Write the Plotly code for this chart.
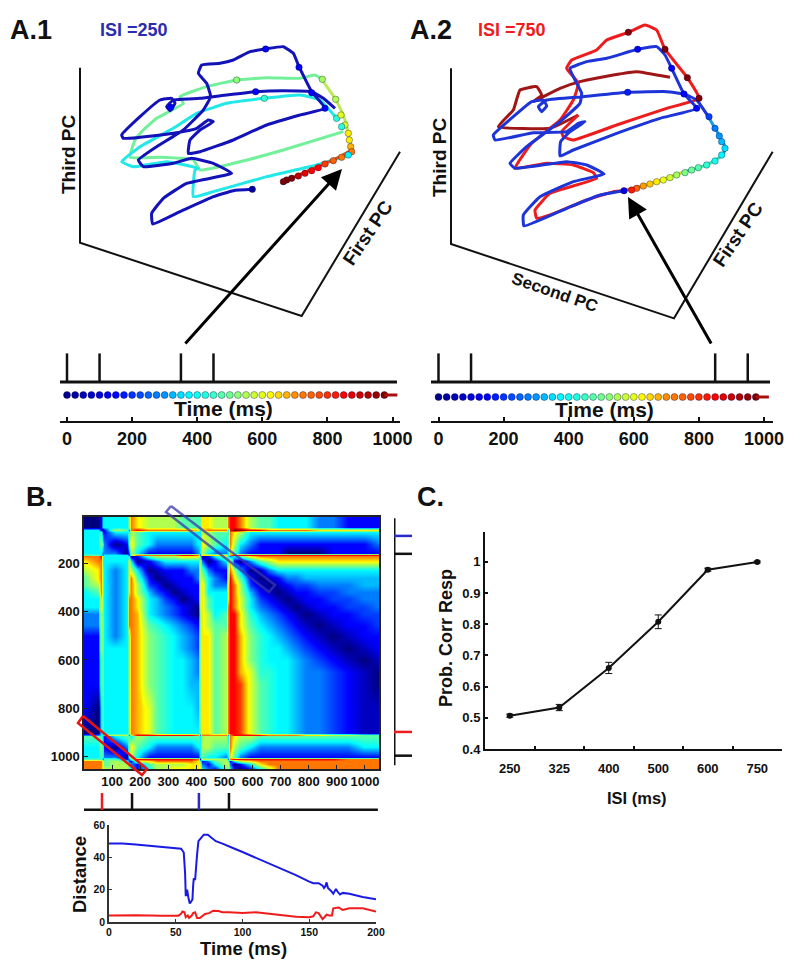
import plotly.graph_objects as go

# ---------- Panel A.1 trajectories (projected PC coordinates) ----------
a1_blue_x = [757,700,640,540,458,455,490,560,695,640,575,520,430,415,470,550,610,632,620,595,605,660,700,750,795,850,880,897,935,975,900,800,700,600,565,570,600,640,625,590,520,420,370,365,420,480,515,525,510,500,520,600,680,767,850,935,970,1005]
a1_blue_y = [568,572,590,635,672,640,595,550,520,490,475,490,500,480,440,390,330,290,250,220,195,190,180,155,147,140,160,200,275,325,345,375,420,455,460,420,390,365,360,385,400,412,415,405,350,300,295,310,332,320,300,295,285,275,272,275,295,325]
a1_cyan_x = [1045,950,800,640,580,585,595,500,400,365,420,520,590,680,793,900,960,1010]
a1_cyan_y = [465,495,530,575,590,510,505,485,500,485,440,385,340,310,295,285,300,355]
a1_green_x = [1030,850,700,600,580,480,390,405,430,470,550,540,620,710,800,900,945,965]
a1_green_y = [395,450,490,510,480,472,472,420,390,355,310,290,260,240,233,235,225,238]
a1_lime_x = [965,1005,1030,1045,1055]
a1_lime_y = [238,295,345,400,450]
a1_red_x = [1055,1000,930,850]
a1_red_y = [450,480,510,545]
a1_dot_x = [757,512,767,797,897,935,975,710,967,793,1007,1010,1023,1035,1025,1045,1048,1052,1055,1045,1025,1000,975,955,935,915,895,875,860,850]
a1_dot_y = [568,322,275,147,202,278,325,240,238,295,298,355,345,375,380,400,420,440,455,465,472,482,492,503,512,520,528,535,540,545]
a1_dot_c = [0.2,1,1,1,1,1,1,4.6,4.8,3.6,5,3.5,5.5,5.5,3.5,6,6,6.5,7,3,7,7.2,7.5,8,8,8.2,8.5,9,9,9]

# ---------- Panel A.2 trajectories ----------
a2_blue_x = [672,600,500,372,370,420,520,612,560,500,345,330,380,480,540,545,525,510,560,620,713,770,795,815,852,890,780,650,520,480,482,510,555,535,500,400,285,280,340,395,430,440,425,415,440,550,683,800,852,890,925]
a2_blue_y = [572,585,625,678,645,590,545,522,495,485,505,490,440,365,310,280,240,205,185,175,148,140,165,205,282,325,355,400,450,468,425,395,365,370,395,398,420,405,350,305,300,318,335,320,300,290,277,275,282,300,350]
a2_azure_x = [925,945,960,975,970]
a2_azure_y = [350,385,410,440,465]
a2_teal_x = [970,920,860]
a2_teal_y = [465,495,513]
a2_yellow_x = [860,760,720]
a2_yellow_y = [513,548,560]
a2_orange_x = [720,672]
a2_orange_y = [560,572]
a2_red_x = [672,640,560,450,410,405,450,590,580,520,440,345,395,480,520,535,500,515,590,620,685,735,770,795,862,897,800,650,520,490,485,535]
a2_red_y = [572,575,600,645,655,630,580,535,518,495,490,505,430,360,300,250,205,180,150,120,97,75,90,148,233,295,325,375,420,410,395,345]
a2_dkred_x = [535,450,295,340,360,410,425,400,480,540,640,710,810]
a2_dkred_y = [345,385,380,330,270,260,285,305,265,245,225,215,232]
a2_dot_x = [672,683,713,815,852,890,685,795,862,897,927,945,958,965,975,965,945,920,895,875,855,830,810,790,770,750,730,710,695]
a2_dot_y = [572,277,148,205,282,325,97,148,233,295,350,385,408,425,445,465,483,495,503,510,518,525,533,540,545,552,558,565,570]
a2_dot_c = [0.8,1.2,1,1,1,1,9,9,9,9,1.5,2,2.2,2.5,2.8,3,3.3,3.6,4,4.2,4.4,4.8,5.3,5.7,6,6.3,6.7,7.2,7.8]

# PC axes of the two 3-D boxes
a1_box_x = [240,240,905,1200]
a1_box_y = [203,728,948,455]
a2_box_x = [153,153,822,1118]
a2_box_y = [205,732,955,455]

# ---------- Stimulus timelines ----------
a1_stim = [0,100,350,450]
a2_stim = [0,100,850,950]
strip_t = [-25,0,25,50,75,100,125,150,175,200,225,250,275,300,325,350,375,400,425,450,475,500,525,550,575,600,625,650,675,700,725,750,775,800,825,850,875,900,925,950,975]
strip_c = [0,0.1,0.25,0.4,0.55,0.7,0.85,1,1.2,1.4,1.6,1.8,2,2.2,2.5,2.8,3,3.2,3.4,3.7,4,4.3,4.6,5,5.3,5.6,5.9,6.2,6.5,6.8,7,7.2,7.4,7.6,7.8,8,8.2,8.4,8.6,8.8,9]
time_ticks = [0,200,400,600,800,1000]

# ---------- Panel B distance matrix: digits 0-9 (dark blue..dark red), letters a-i are half steps 0.5..8.5 ----------
dm_cols = [0,50,60,66,72,110,152,160,168, 190,230,260,290,320,350,380,405, 412,420,440,465,505,512,520,535, 555,590,625,658,690,723,756,789,838,886,941,995,1050]
dm_rows = [10,50,63,72,120,158,166,172,190,230,260,290,320,350,380,410,455,500,550,600,650,700,800,900,908,914,960,1000,1008,1016,1030,1050]
dm_cells = [
"001333357 65555444 46655788 7544333322111",
"001333357 65555444 46655788 7544333322111",
"331015427 87777776 36777389 9887777766666",
"334113345 43333333 35544476 5333333333333",
"335320146 43222223 36543475 3211111111112",
"333222025 31111112 35322364 2111100001111",
"443233315 77777887 26666378 8888888888888",
"778433330 14555666 30135323 4677777777777",
"677333363 01233333 52013461 0245666666666",
"567432365 30a11122 54211575 c0a2333333333",
"467432367 410a1112 55321586 410a122cccccc",
"457432367 5b10a111 56322687 5ba0a1bb222cc",
"347432367 5cb10a11 56333687 5c1a0a11bb222",
"336432377 63cb10a1 56433687 f3b1a0a11bb22",
"336432377 63c2b1a0 56433787 f32b1a0a11bb2",
"225432377 g3c2b1a0 e6534788 6dc2b1a0a11bb",
"225432377 g4d3c2b1 e6544788 643c2b1a0a11b",
"115432357 ge4d3c2b e6645788 ged3c2b1a0a11",
"115433357 ge4d3c2b e6645788 ged33c2b1a0a1",
"114433357 ge4d33c2 e6645788 ged333c2b1a0a",
"114433357 ge4d33c2 e6645788 gfdd33c22b1a0",
"114433357 ge4d33cc e6645788 hf4d33c22b1a0",
"103433357 gf4d333c e6645788 hf4d33c22b1aa",
"003433357 gf4d3333 e6645788 hf4d33c22b1aa",
"223355526 88888887 27777278 8887777665544",
"444213443 54444444 35555376 5544444444444",
"335310256 43222223 35544475 4322222222233",
"334322045 31111111 34332364 2111111111111",
"444244124 88888887 15555278 8888888888777",
"777545411 56777776 41245413 5677777777777",
"777545542 14555566 52135520 1367777777777",
"777555543 13556666 63214531 0135777777777",
]
dm_half = {c: i + 0.5 for i, c in enumerate("abcdefghi")}
dm_z = [[dm_half[c] if c in dm_half else int(c) for c in row.replace(" ", "")] for row in dm_cells]
dm_xticks = [100,200,300,400,500,600,700,800,900,1000]
dm_yticks = [200,400,600,800,1000]
row_stim_blue = [88]
row_stim_red = [897]
row_stim_black = [162,995]
col_stim_red = [64]
col_stim_blue = [409]
col_stim_black = [171,516]

# ---------- Distance traces ----------
dist_t_blue = [0,10,20,30,40,50,54,56,57,57.5,58.5,59.5,60.5,61.5,62.5,63,63.5,64.5,65,66,67,69,71,74,77,80,85,90,95,100,110,120,130,140,150,153,157,160,161,162,163,164,166,168,170,171,173,175,180,185,190,200]
dist_blue = [48.5,48.5,48,47.3,46.3,45.6,45.3,43,30,16,20,15,11.5,12.5,14,22,27,26,33,42,50,52,54,54,52,50,48.5,46.5,45,43.3,39.7,36,32.8,29,25,24,24,22.5,21,22,24.5,21,19.5,17.5,20.5,19,17,18,17.5,16.5,15.5,14]
dist_t_red = [0,20,40,52,54,55,56.5,57.5,59,60,62,63,64.5,66,68,72,75,78,82,85,90,100,110,120,130,140,150,153,155,157,160,163,165,167,168,172,175,180,190,200]
dist_red = [4,4.2,3.9,3.9,5,6.5,6,3,4,2.5,4,5.5,6,2.5,2.5,5,5.5,7,6.8,6,6,5.5,6,5.3,4.2,3.3,3,3.5,6,5.5,1.8,4.5,4,4,8.5,9,7.5,8.5,8.5,6.5]

# ---------- Panel C ----------
isi_labels = ["250","325","400","500","600","750"]
prob_correct = [0.507,0.533,0.66,0.808,0.975,1.0]
prob_err = [0.005,0.01,0.018,0.022,0.005,0.003]

JET = [[0,"#00007f"],[0.11,"#0000ff"],[0.34,"#00ffff"],[0.65,"#ffff00"],[0.89,"#ff0000"],[1,"#7f0000"]]
BOLD = "Liberation Sans"
INK = "#111111"

layout = dict(width=800, height=965, margin=dict(l=0,r=0,t=0,b=0), showlegend=False,
              paper_bgcolor="white", plot_bgcolor="rgba(0,0,0,0)")
traces = []
n = [0]

def panel(l, t, r, b, xr, yr, xkw=None, ykw=None):
    n[0] += 1
    k = n[0]
    xk, yk = ("xaxis", "yaxis") if k == 1 else (f"xaxis{k}", f"yaxis{k}")
    xa = dict(domain=[l/800, r/800], range=xr, visible=False, anchor=f"y{k if k>1 else ''}", fixedrange=True,
              showgrid=False, zeroline=False, automargin=False)
    ya = dict(domain=[1-b/965, 1-t/965], range=yr, visible=False, anchor=f"x{k if k>1 else ''}", fixedrange=True,
              showgrid=False, zeroline=False, automargin=False)
    xa.update(xkw or {})
    ya.update(ykw or {})
    layout[xk] = xa
    layout[yk] = ya
    return (f"x{k if k>1 else ''}", f"y{k if k>1 else ''}")

def line(ax, x, y, color, width=3, **kw):
    traces.append(go.Scatter(x=x, y=y, mode="lines", line=dict(color=color, width=width, shape="spline", smoothing=0.35),
                             xaxis=ax[0], yaxis=ax[1], hoverinfo="skip", **kw))

def straight(ax, x, y, color, width=2):
    traces.append(go.Scatter(x=x, y=y, mode="lines", line=dict(color=color, width=width),
                             xaxis=ax[0], yaxis=ax[1], hoverinfo="skip", cliponaxis=False))

def dots(ax, x, y, c, size=6.5):
    traces.append(go.Scatter(x=x, y=y, mode="markers", xaxis=ax[0], yaxis=ax[1], hoverinfo="skip", cliponaxis=False,
                             marker=dict(size=size, color=c, colorscale=JET, cmin=0, cmax=9,
                                         line=dict(color="rgba(0,0,60,0.35)", width=1))))

# --- A.1
a1 = panel(0, 0, 410, 330, [0,1230], [990,0])
straight(a1, a1_box_x, a1_box_y, "#111111", 2)
line(a1, a1_green_x, a1_green_y, "#72f09a", 3)
line(a1, a1_cyan_x, a1_cyan_y, "#22e8e8", 3)
line(a1, a1_lime_x, a1_lime_y, "#bde85a", 3)
line(a1, a1_blue_x, a1_blue_y, "#1212b8", 3)
line(a1, a1_red_x, a1_red_y, "#e0501a", 3)
dots(a1, a1_dot_x, a1_dot_y, a1_dot_c)

# --- A.2
a2 = panel(400, 0, 800, 330, [0,1200], [990,0])
straight(a2, a2_box_x, a2_box_y, "#111111", 2)
line(a2, a2_dkred_x, a2_dkred_y, "#a01616", 3)
line(a2, a2_red_x, a2_red_y, "#ee1c1c", 3)
line(a2, a2_blue_x, a2_blue_y, "#1c34d8", 3)
line(a2, a2_azure_x, a2_azure_y, "#1a9ae8", 3)
line(a2, a2_teal_x, a2_teal_y, "#40e0b0", 3)
line(a2, a2_yellow_x, a2_yellow_y, "#d8d820", 3)
line(a2, a2_orange_x, a2_orange_y, "#e85a10", 3)
dots(a2, a2_dot_x, a2_dot_y, a2_dot_c)

# --- timelines
def timeline(l, r, t0px, stim, strip_y):
    scale = 325.5 / 1000
    xr = [(l - t0px) / scale, (r - t0px) / scale]
    xk = dict(visible=True, showline=True, linecolor=INK, linewidth=2, ticks="inside", ticklen=4, tickwidth=1.5,
              tickcolor=INK, tickvals=time_ticks, ticktext=[str(v) for v in time_ticks], side="bottom",
              tickfont=dict(family=BOLD, size=18, color=INK, weight="bold"), showgrid=False)
    top = panel(l, 350, r, 384, xr, [0,1])
    for s in stim:
        straight(top, [s,s], [0.06,0.9], INK, 2.5)
    straight(top, [xr[0]-6/scale, xr[1]-3/scale], [0.06,0.06], INK, 3)
    ax = panel(l, strip_y-6, r, 421, xr, [421,strip_y-6], xk)
    dots(ax, strip_t, [strip_y]*len(strip_t), strip_c, size=7)
    straight(ax, [975, 1015], [strip_y, strip_y], "#a81010", 3)

timeline(60, 400, 67, a1_stim, 395)
timeline(431, 773, 438.5, a2_stim, 397)

# --- heatmap
hm_x = dict(visible=True, range=[0,1050], showline=True, mirror=True, linecolor="#222222", linewidth=1.5,
            ticks="inside", ticklen=4, tickcolor="#222222", tickvals=dm_xticks, ticktext=[str(v) for v in dm_xticks],
            tickfont=dict(family=BOLD, size=13, color=INK, weight="bold"), showgrid=False)
hm_y = dict(visible=True, range=[1050,10], showline=True, mirror=True, linecolor="#222222", linewidth=1.5,
            ticks="inside", ticklen=4, tickcolor="#222222", tickvals=dm_yticks, ticktext=[str(v) for v in dm_yticks],
            tickfont=dict(family=BOLD, size=13, color=INK, weight="bold"), showgrid=False)
hm = panel(84, 517, 379, 769, [0,1050], [1050,10], hm_x, hm_y)
traces.append(go.Heatmap(x=dm_cols, y=dm_rows, z=dm_z, colorscale=JET, zmin=0, zmax=9, zsmooth="best",
                         showscale=False, xaxis=hm[0], yaxis=hm[1], hoverinfo="skip"))

# row stimulus bar at right of the matrix
rb = panel(394, 517, 412, 769, [0,1], [1050,10])
straight(rb, [0,0], [15,1035], INK, 3)
for v in row_stim_black:
    straight(rb, [0,1], [v,v], INK, 2.5)
for v in row_stim_blue:
    straight(rb, [0,1], [v,v], "#2a2ac8", 2.5)
for v in row_stim_red:
    straight(rb, [0,1], [v,v], "#ee1c1c", 2.5)

# column stimulus bar under the matrix
cb = panel(84, 793, 379, 811, [0,1050], [0,1])
straight(cb, [-7,1046], [0.06,0.06], INK, 3)
for v in col_stim_black:
    straight(cb, [v,v], [0.06,1], INK, 2.5)
for v in col_stim_blue:
    straight(cb, [v,v], [0.06,1], "#2a2ac8", 2.5)
for v in col_stim_red:
    straight(cb, [v,v], [0.06,1], "#ee1c1c", 2.5)

# --- distance panel
d_x = dict(visible=True, showline=True, linecolor="#333333", linewidth=1.5, ticks="inside", ticklen=3, tickcolor="#333333",
           tickvals=[0,50,100,150,200], tickfont=dict(family=BOLD, size=10.5, color=INK, weight="bold"), showgrid=False)
d_y = dict(visible=True, showline=True, linecolor="#333333", linewidth=1.5, ticks="inside", ticklen=3, tickcolor="#333333",
           tickvals=[0,20,40,60], tickfont=dict(family=BOLD, size=10.5, color=INK, weight="bold"), showgrid=False)
dp = panel(109, 825, 376, 922, [0,200], [0,60], d_x, d_y)
traces.append(go.Scatter(x=dist_t_blue, y=dist_blue, mode="lines", line=dict(color="#1a1ae6", width=2), xaxis=dp[0], yaxis=dp[1], hoverinfo="skip"))
traces.append(go.Scatter(x=dist_t_red, y=dist_red, mode="lines", line=dict(color="#f01c1c", width=2), xaxis=dp[0], yaxis=dp[1], hoverinfo="skip"))

# --- panel C
c_x = dict(visible=True, type="category", categoryorder="array", categoryarray=isi_labels, range=[-0.5,5.5],
           tickson="boundaries", showline=True, linecolor=INK, linewidth=2, ticks="inside", ticklen=3, tickwidth=2, tickcolor=INK,
           tickfont=dict(family=BOLD, size=13, color=INK, weight="bold"), showgrid=False, ticklabelstandoff=6)
c_y = dict(visible=True, showline=True, linecolor=INK, linewidth=2, ticks="inside", ticklen=3, tickwidth=2, tickcolor=INK,
           tickvals=[0.4,0.5,0.6,0.7,0.8,0.9,1.0], ticktext=["0.4","0.5","0.6","0.7","0.8","0.9","1"],
           tickfont=dict(family=BOLD, size=13, color=INK, weight="bold"), showgrid=False)
cp = panel(485, 532, 782, 749, [-0.5,5.5], [0.4,1.096], c_x, c_y)
traces.append(go.Scatter(x=isi_labels, y=prob_correct, mode="lines+markers", xaxis=cp[0], yaxis=cp[1], hoverinfo="skip",
                         line=dict(color=INK, width=2), marker=dict(size=6, color=INK),
                         error_y=dict(type="data", array=prob_err, color=INK, thickness=1, width=3.5)))

# --- overlay (arrows, selection boxes); page-wide, drawn on top
ov = panel(0, 0, 800, 965, [0,800], [965,0])
sel_blue_x = [171,166,269,275,171]
sel_blue_y = [506,512,592,585,506]
sel_red_x = [83,78,142,147,83]
sel_red_y = [716,723,775,769,716]
traces.append(go.Scatter(x=sel_blue_x, y=sel_blue_y, mode="lines", line=dict(color="rgba(55,55,175,0.75)", width=2.5), xaxis=ov[0], yaxis=ov[1], hoverinfo="skip"))
traces.append(go.Scatter(x=sel_red_x, y=sel_red_y, mode="lines", line=dict(color="#e81414", width=2.5), xaxis=ov[0], yaxis=ov[1], hoverinfo="skip"))

xr_ov, yr_ov = ov
anns = []
def arrow(x1, y1, x0, y0):
    anns.append(dict(x=x1, y=y1, ax=x0, ay=y0, xref=xr_ov, yref=yr_ov, axref=xr_ov, ayref=yr_ov, text="", showarrow=True,
                     arrowhead=2, arrowsize=1.35, arrowwidth=3, arrowcolor="#000000"))
arrow(342, 169, 184, 345)
arrow(628, 197, 712, 345)

def txt(x, y, s, size, color=INK, bold=True, angle=0):
    anns.append(dict(x=x/800, y=1-y/965, xref="paper", yref="paper", text=s, showarrow=False, textangle=angle,
                     xanchor="center", yanchor="middle",
                     font=dict(family=BOLD, size=size, color=color, weight="bold" if bold else "normal")))
txt(31, 30, "A.1", 27)
txt(134, 30, "ISI =250", 18, "#2c2cb0")
txt(431, 30, "A.2", 27)
txt(512, 30, "ISI =750", 18, "#ee1c1c")
txt(39, 497, "B.", 27)
txt(430, 497, "C.", 27)
txt(68, 155, "Third PC", 19, angle=-90)
txt(439, 157, "Third PC", 19, angle=-90)
txt(367, 233, "First PC", 19, angle=-56)
txt(738, 235, "First PC", 19, angle=-56)
txt(555, 292, "Second PC", 17, angle=19)
txt(223, 408, "Time (ms)", 21)
txt(604, 409, "Time (ms)", 21)
txt(79, 875, "Distance", 18.5, angle=-90)
txt(243, 948, "Time (ms)", 18.5)
txt(446, 638, "Prob. Corr Resp", 18, angle=-90)
txt(637, 798, "ISI (ms)", 16.5)
layout["annotations"] = anns

fig = go.Figure(data=traces, layout=layout)
fig.write_html("out.html", config={"displayModeBar": False}, post_script="document.body.style.margin='0';")
